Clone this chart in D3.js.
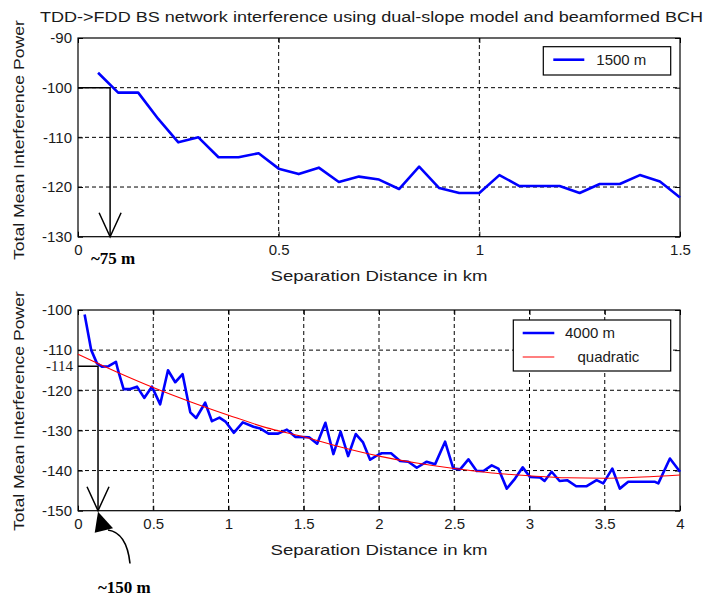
<!DOCTYPE html>
<html><head><meta charset="utf-8">
<script src="https://cdn.jsdelivr.net/npm/d3@7"></script>
<style>body{margin:0;background:#fff}svg{display:block}</style>
</head><body><svg id="c" width="705" height="599"></svg>
<script>
// ---- data ----
const titleText = "TDD->FDD BS network interference using dual-slope model and beamformed BCH";
const yLabelText = "Total Mean Interference Power";
const xLabelText = "Separation Distance in km";

const topDist  = [0.05,0.1,0.15,0.2,0.25,0.3,0.35,0.4,0.45,0.5,0.55,0.6,0.65,0.7,0.75,0.8,0.85,0.9,0.95,1.0,1.05,1.1,1.15,1.2,1.25,1.3,1.35,1.4,1.45,1.5];
const topPower = [-97,-101,-101,-106.3,-111,-110,-114,-114,-113.2,-116.3,-117.4,-116.1,-119,-117.9,-118.5,-120.4,-115.9,-120.2,-121.2,-121.2,-117.6,-119.8,-119.8,-119.8,-121.2,-119.4,-119.4,-117.6,-118.9,-122.1];

const botDist  = [0.044,0.088,0.126,0.159,0.203,0.252,0.266,0.303,0.347,0.392,0.44,0.491,0.546,0.598,0.646,0.695,0.746,0.785,0.845,0.89,0.94,0.98,1.035,1.095,1.166,1.21,1.266,1.33,1.388,1.443,1.535,1.589,1.644,1.697,1.745,1.795,1.846,1.894,1.941,1.998,2.019,2.08,2.14,2.195,2.251,2.317,2.373,2.439,2.494,2.539,2.594,2.649,2.694,2.749,2.793,2.849,2.904,2.955,3.003,3.07,3.1,3.147,3.2,3.25,3.31,3.38,3.446,3.49,3.55,3.6,3.656,3.834,3.856,3.933,4.0];
const botPower = [-101.1,-110,-113.3,-114.1,-114,-112.9,-115,-119.7,-119.7,-119.1,-121.9,-119.1,-123.5,-115,-118,-116,-125.5,-126.9,-123.1,-127.7,-126.8,-127.8,-130.6,-128,-129.1,-129.5,-130.8,-130.8,-129.8,-131.6,-131.7,-133.3,-128.1,-135.9,-130.3,-136.4,-130.9,-133,-137.3,-136,-135.7,-135.7,-137.6,-137.8,-139.3,-137.8,-138.4,-132.8,-139.5,-139.7,-137.2,-140.1,-140.1,-138.7,-139.5,-144.5,-142,-139.2,-141.6,-141.7,-142.6,-140.3,-142.6,-142.4,-143.9,-143.9,-142.4,-143.2,-139.5,-144.5,-142.8,-142.8,-143.2,-137,-140.3];

const fitDist  = [0,0.25,0.5,0.75,1.0,1.25,1.5,1.75,2.0,2.25,2.5,2.75,3.0,3.25,3.5,3.75,4.0];
const fitPower = [-111,-115.3,-119.3,-122.9,-126.2,-129.3,-131.6,-134.2,-136.4,-138.1,-139.5,-140.6,-141.3,-141.8,-141.9,-141.6,-141.1];

const topXTicks = [0,0.5,1,1.5];
const topYTicks = [-130,-120,-110,-100,-90];
const botXTicks = [0,0.5,1,1.5,2,2.5,3,3.5,4];
const botYTicks = [-150,-140,-130,-120,-110,-100];
const topLegend = ["1500 m"];
const botLegend = ["4000 m","   quadratic"];
const topMark = {x:0.08, y:-100, label:"~75 m"};
const botMark = {x:0.133, y:-114, label:"~150 m", tick:"-114"};

// ---- drawing ----
const svg = d3.select("#c");
const SANS = "'Liberation Sans', Arial, sans-serif";
const SERIF = "'Liberation Serif', 'Times New Roman', serif";
const txtCol = "#1a1a1a";
const fmt = d => String(d);

svg.append("text").attr("x",40).attr("y",22).attr("font-family",SANS).attr("font-size",14)
  .attr("fill",txtCol).attr("textLength",663).attr("lengthAdjust","spacingAndGlyphs").text(titleText);

function panel(o){
  const x = d3.scaleLinear().domain(o.xd).range([78,680]);
  const y = d3.scaleLinear().domain(o.yd).range([o.bottom,o.top]);
  const g = svg.append("g");
  // grid
  o.xt.filter(v=>v>o.xd[0]&&v<o.xd[1]).forEach(v=>{
    g.append("line").attr("x1",x(v)).attr("x2",x(v)).attr("y1",o.top).attr("y2",o.bottom)
     .attr("stroke","#000").attr("stroke-width",1).attr("stroke-dasharray","4,3");
  });
  o.yt.filter(v=>v>o.yd[0]&&v<o.yd[1]).forEach(v=>{
    g.append("line").attr("x1",78).attr("x2",680).attr("y1",y(v)).attr("y2",y(v))
     .attr("stroke","#000").attr("stroke-width",1).attr("stroke-dasharray","4,3");
  });
  // axes via d3 (inward ticks)
  const ax = d3.axisBottom(x).tickValues(o.xt).tickSize(-5).tickFormat(fmt).tickPadding(8);
  const axT = d3.axisTop(x).tickValues(o.xt).tickSize(-5).tickFormat("");
  const ay = d3.axisLeft(y).tickValues(o.yt).tickSize(-5).tickFormat(fmt).tickPadding(8);
  const ayR = d3.axisRight(y).tickValues(o.yt).tickSize(-5).tickFormat("");
  g.append("g").attr("transform",`translate(0,${o.bottom})`).call(ax);
  g.append("g").attr("transform",`translate(0,${o.top})`).call(axT);
  const gy = g.append("g").attr("transform",`translate(78,0)`).call(ay);
  g.append("g").attr("transform",`translate(680,0)`).call(ayR);
  g.selectAll(".domain").remove();
  g.selectAll(".tick line").attr("stroke","#000");
  g.selectAll(".tick text").attr("font-family",SANS).attr("font-size",15).attr("fill",txtCol);
  gy.selectAll(".tick text").attr("x",-6);
  // frame
  g.append("rect").attr("x",78).attr("y",o.top).attr("width",602).attr("height",o.bottom-o.top)
   .attr("fill","none").attr("stroke","#000").attr("stroke-width",1.2);
  // labels
  g.append("text").attr("x",379).attr("y",o.bottom+44).attr("text-anchor","middle")
   .attr("font-family",SANS).attr("font-size",15).attr("fill",txtCol)
   .attr("textLength",217).attr("lengthAdjust","spacingAndGlyphs").text(xLabelText);
  g.append("text").attr("transform",`translate(24,${o.ylc}) rotate(-90)`).attr("text-anchor","middle")
   .attr("font-family",SANS).attr("font-size",15).attr("fill",txtCol)
   .attr("textLength",240).attr("lengthAdjust","spacingAndGlyphs").text(yLabelText);
  return {x,y,g};
}

const P1 = panel({xd:[0,1.5], yd:[-130,-90], top:38, bottom:236.7, xt:topXTicks, yt:topYTicks, ylc:140});
const P2 = panel({xd:[0,4], yd:[-150,-100], top:310, bottom:510.7, xt:botXTicks, yt:botYTicks, ylc:411});

// series
const line = (P)=>d3.line().x(d=>P.x(d[0])).y(d=>P.y(d[1]));
P1.g.append("path").datum(d3.zip(topDist,topPower)).attr("d",line(P1))
  .attr("fill","none").attr("stroke","#0000ff").attr("stroke-width",2.6).attr("stroke-linejoin","round");
P2.g.append("path").datum(d3.zip(botDist,botPower)).attr("d",line(P2))
  .attr("fill","none").attr("stroke","#0000ff").attr("stroke-width",2.6).attr("stroke-linejoin","round");
P2.g.append("path").datum(d3.zip(fitDist,fitPower)).attr("d",line(P2).curve(d3.curveMonotoneX))
  .attr("fill","none").attr("stroke","#ff0000").attr("stroke-width",1.1);

// legends
function legend(g, x0, y0, w, h, items, colors, widths, sx, tx){
  g.append("rect").attr("x",x0).attr("y",y0).attr("width",w).attr("height",h)
   .attr("fill","#fff").attr("stroke","#000").attr("stroke-width",1.2);
  items.forEach((t,i)=>{
    const yy = y0 + 13 + i*24;
    g.append("line").attr("x1",x0+sx[0]).attr("x2",x0+sx[1]).attr("y1",yy).attr("y2",yy)
     .attr("stroke",colors[i]).attr("stroke-width",widths[i]);
    g.append("text").attr("x",x0+tx).attr("y",yy+5).attr("font-family",SANS).attr("font-size",15)
     .attr("fill",txtCol).style("white-space","pre").text(t);
  });
}
legend(P1.g, 543.3, 46.7, 127.4, 28.3, topLegend, ["#0000ff"], [2.6], [10,41], 53);
legend(P2.g, 513.3, 320, 157.4, 51, botLegend, ["#0000ff","#ff0000"], [2.6,1.1], [9.4,41], 51.7);

// annotations
function mark(P, m, bottom){
  const mx = P.x(m.x), my = P.y(m.y);
  P.g.append("path").attr("d",`M78,${my}H${mx}V${bottom}`).attr("fill","none").attr("stroke","#000").attr("stroke-width",1.5);
  P.g.append("path").attr("d",`M${mx-11},${bottom-24}L${mx},${bottom}L${mx+11},${bottom-24}`)
    .attr("fill","none").attr("stroke","#000").attr("stroke-width",1.5);
  return {mx,my};
}
mark(P1, topMark, 236.7);
svg.append("text").attr("x",91).attr("y",264).attr("font-family",SERIF).attr("font-weight","bold")
  .attr("font-size",17).attr("fill","#000").text(topMark.label);

const a2 = mark(P2, botMark, 510.7);
svg.append("text").attr("x",73).attr("y",a2.my+5).attr("text-anchor","end").attr("font-family",SERIF)
  .attr("font-size",15).attr("fill",txtCol).text(botMark.tick);
svg.append("path").attr("d",`M${a2.mx},511.7L${a2.mx-3.3},532.7L${a2.mx+15},528.3Z`).attr("fill","#000");
svg.append("path").attr("d",`M${a2.mx+10},530C${a2.mx+24},532 ${a2.mx+30},545 ${a2.mx+32},563.5`)
  .attr("fill","none").attr("stroke","#000").attr("stroke-width",1.6);
svg.append("text").attr("x",98).attr("y",593).attr("font-family",SERIF).attr("font-weight","bold")
  .attr("font-size",17).attr("fill","#000").text(botMark.label);
</script></body></html>
